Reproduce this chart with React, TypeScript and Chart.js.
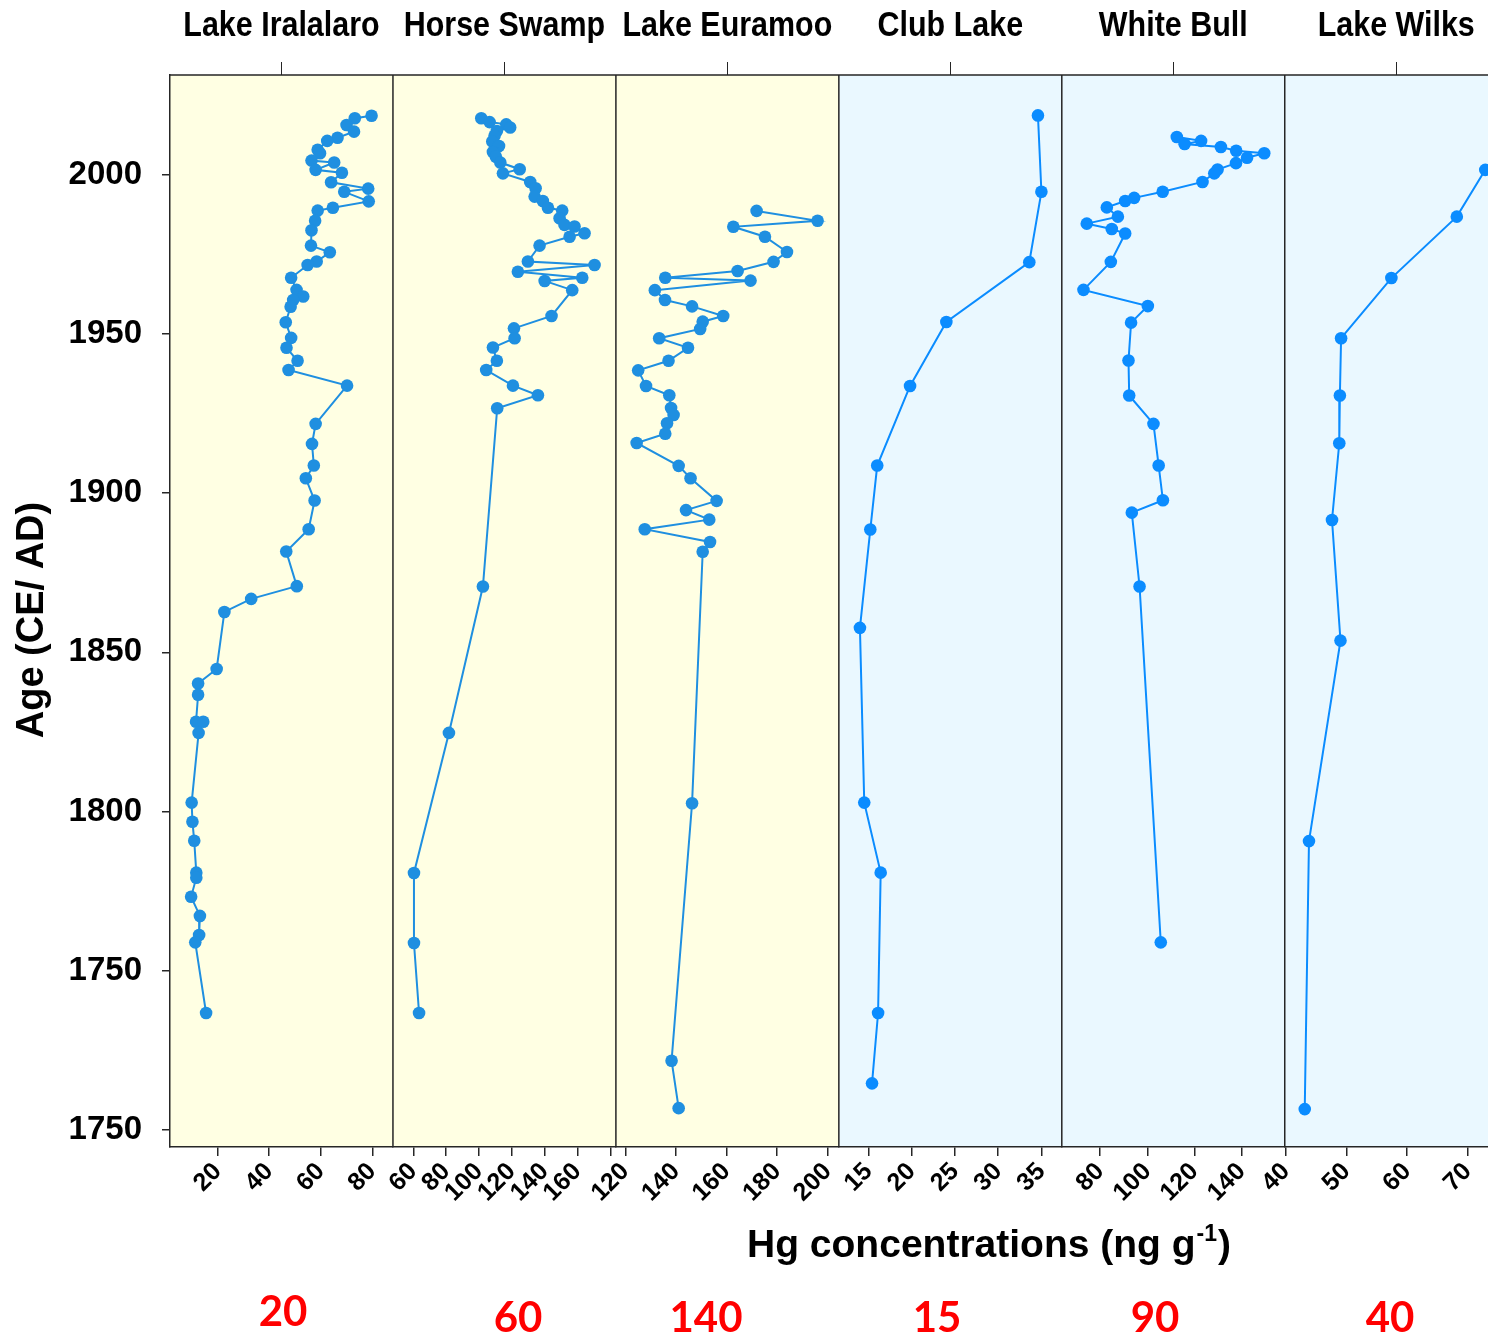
import React, { useEffect, useRef } from "react";
import { Chart, registerables } from "chart.js";

Chart.register(...registerables);

// ---------------- DATA ----------------
const lakeNames = ["Lake Iralalaro", "Horse Swamp", "Lake Euramoo", "Club Lake", "White Bull", "Lake Wilks"];

const iralalaroAge = [2018.6, 2017.8, 2015.7, 2013.6, 2011.7, 2010.7, 2007.9, 2006.8, 2004.5, 2003.9, 2001.6, 2000.7, 1997.7, 1995.7, 1994.7, 1991.7, 1989.7, 1988.8, 1985.6, 1982.6, 1977.8, 1975.7, 1972.8, 1971.7, 1967.7, 1963.9, 1961.8, 1960.7, 1958.6, 1953.7, 1948.8, 1945.7, 1941.6, 1938.7, 1933.8, 1921.8, 1915.5, 1908.7, 1904.7, 1897.7, 1888.7, 1881.7, 1870.8, 1866.8, 1862.7, 1844.8, 1840.2, 1836.7, 1828.2, 1828.2, 1824.7, 1802.8, 1796.8, 1790.8, 1780.8, 1779.2, 1773.2, 1767.2, 1761.2, 1758.9, 1736.7];
const iralalaroHg = [79.7, 73.2, 70.0, 72.9, 66.5, 62.5, 58.8, 59.7, 56.4, 65.2, 58.0, 68.2, 64.0, 78.4, 69.1, 78.6, 64.7, 58.8, 57.8, 56.4, 56.2, 63.5, 58.4, 54.9, 48.5, 50.6, 53.2, 49.3, 48.3, 46.4, 48.5, 46.7, 51.0, 47.5, 70.2, 58.0, 56.6, 57.3, 54.2, 57.6, 55.3, 46.6, 50.7, 33.0, 22.6, 19.6, 12.4, 12.4, 11.6, 14.4, 12.6, 9.9, 10.2, 10.9, 11.7, 11.7, 9.7, 13.1, 12.8, 11.3, 15.5];

const horseSwampAge = [2017.8, 2016.6, 2015.9, 2014.9, 2013.8, 2012.3, 2010.5, 2009.1, 2007.2, 2005.7, 2003.9, 2001.8, 2000.5, 1997.8, 1995.8, 1993.2, 1991.8, 1989.7, 1988.8, 1986.4, 1984.3, 1983.8, 1981.7, 1980.6, 1977.8, 1972.8, 1971.7, 1969.6, 1967.7, 1966.7, 1963.8, 1955.7, 1951.8, 1948.7, 1945.8, 1941.6, 1938.7, 1933.8, 1930.8, 1926.7, 1870.7, 1824.7, 1780.7, 1758.7, 1736.7];
const horseSwampHg = [101.4, 106.5, 116.6, 119.0, 110.9, 109.5, 108.1, 112.2, 108.5, 110.3, 113.0, 124.8, 114.6, 131.2, 134.5, 133.9, 138.9, 142.0, 150.7, 149.1, 152.1, 158.2, 164.3, 155.2, 136.9, 129.8, 170.4, 123.7, 162.9, 140.0, 156.8, 144.2, 121.3, 121.7, 108.5, 110.9, 104.4, 120.7, 135.9, 111.1, 102.4, 81.7, 60.4, 60.4, 63.5];

const euramooAge = [1988.7, 1985.6, 1983.7, 1980.6, 1975.8, 1972.7, 1969.8, 1967.7, 1966.8, 1963.8, 1960.7, 1958.7, 1955.7, 1953.9, 1951.6, 1948.7, 1945.7, 1941.6, 1938.6, 1933.7, 1930.8, 1926.8, 1924.6, 1922.0, 1918.7, 1915.8, 1908.6, 1904.7, 1897.6, 1894.7, 1891.7, 1888.7, 1884.7, 1881.6, 1802.6, 1721.7, 1706.8];
const euramooHg = [171.9, 196.0, 162.7, 175.2, 183.9, 178.6, 164.4, 135.8, 169.5, 131.7, 135.7, 146.4, 158.7, 150.6, 149.6, 133.4, 144.8, 137.1, 125.1, 128.2, 137.4, 138.1, 139.1, 136.5, 135.8, 124.5, 141.1, 145.8, 156.1, 144.0, 153.2, 127.7, 153.5, 150.6, 146.4, 138.3, 141.1];

const clubLakeAge = [2018.7, 1994.7, 1972.6, 1953.8, 1933.7, 1908.7, 1888.6, 1857.7, 1802.8, 1780.8, 1736.7, 1714.6];
const clubLakeHg = [34.6, 35.0, 33.6, 24.0, 19.8, 16.0, 15.2, 14.0, 14.5, 16.4, 16.1, 15.4];

const whiteBullAge = [2011.9, 2010.7, 2009.7, 2008.8, 2007.6, 2006.8, 2005.4, 2003.7, 2001.7, 2000.5, 1997.8, 1994.7, 1992.8, 1991.8, 1989.8, 1986.9, 1984.7, 1983.0, 1981.6, 1972.7, 1963.9, 1958.8, 1953.6, 1941.7, 1930.7, 1921.8, 1908.7, 1897.8, 1893.9, 1870.7, 1758.9];
const whiteBullHg = [112.5, 122.8, 115.8, 131.2, 137.7, 149.6, 142.3, 137.6, 129.8, 128.4, 123.4, 106.5, 94.4, 90.6, 82.8, 87.5, 74.3, 84.9, 90.6, 84.5, 72.9, 100.2, 93.1, 92.0, 92.3, 102.6, 104.8, 106.6, 93.4, 96.7, 105.7];

const wilksAge = [2001.6, 1986.9, 1967.6, 1948.7, 1930.7, 1915.7, 1891.6, 1853.7, 1790.7, 1706.5];
const wilksHg = [72.9, 68.2, 57.4, 49.1, 48.9, 48.8, 47.6, 49.0, 43.8, 43.1];

const panelAges = [iralalaroAge, horseSwampAge, euramooAge, clubLakeAge, whiteBullAge, wilksAge];
const panelHg = [iralalaroHg, horseSwampHg, euramooHg, clubLakeHg, whiteBullHg, wilksHg];

// axis ranges and ticks per panel
const panelMin = [1.5, 47.6, 116.3, 11.56, 63.7, 39.8];
const panelMax = [88, 183.4, 204.4, 37.36, 158.3, 76.6];
const panelTicks = [
  [20, 40, 60, 80],
  [60, 80, 100, 120, 140, 160, 180],
  [120, 140, 160, 180, 200],
  [15, 20, 25, 30, 35],
  [80, 100, 120, 140],
  [40, 50, 60, 70],
];
const panelTickLabels = [
  ["20", "40", "60", "80"],
  ["60", "80", "100", "120", "140", "160", ""],
  ["120", "140", "160", "180", "200"],
  ["15", "20", "25", "30", "35"],
  ["80", "100", "120", "140"],
  ["40", "50", "60", "70"],
];

const yMin = 1694.6;
const yMax = 2031.4;
const yTickValues = [1700, 1750, 1800, 1850, 1900, 1950, 2000];
const yTickLabels = ["1750", "1750", "1800", "1850", "1900", "1950", "2000"];

const yAxisTitle = "Age (CE/ AD)";
const xAxisTitleMain = "Hg concentrations (ng g";
const xAxisTitleSup = "-1";
const xAxisTitleEnd = ")";
const redLabels = ["20", "60", "140", "15", "90", "40"];

// ---------------- STYLE ----------------
const FONT = "'Liberation Sans', Arial, Helvetica, sans-serif";
const CANVAS_W = 1514;
const CANVAS_H = 1339;
const AREA_TOP = 75;
const AREA_BOTTOM = 1147;
const AREA_LEFT = 170;
const RIGHT_PAD = 3;
const X_AXIS_H = 100;
const PANEL_FILLS = ["#FFFFE3", "#FFFFE3", "#FFFFE3", "#EAF8FF", "#EAF8FF", "#EAF8FF"];
const MARK_COLORS = ["#1F8FE0", "#1F8FE0", "#1F8FE0", "#0B8CFF", "#0B8CFF", "#0B8CFF"];
const FRAME = "#262626";
const RED_X = [283, 518, 706, 937, 1155, 1390];
const RED_Y = [1312, 1318, 1318, 1318, 1318, 1318];
const TITLE_SQUEEZE = 0.87;

const decorPlugin = {
  id: "decor",
  beforeDraw(chart: any) {
    const { ctx, chartArea } = chart;
    ctx.save();
    for (let i = 0; i < lakeNames.length; i++) {
      const s = chart.scales["x" + i];
      ctx.fillStyle = PANEL_FILLS[i];
      ctx.fillRect(s.left, chartArea.top, s.right - s.left, chartArea.bottom - chartArea.top);
    }
    ctx.restore();
  },
  afterDraw(chart: any) {
    const { ctx, chartArea } = chart;
    ctx.save();
    // frame: top border and dividers
    ctx.strokeStyle = FRAME;
    ctx.lineWidth = 1.5;
    ctx.beginPath();
    ctx.moveTo(chartArea.left, chartArea.top);
    ctx.lineTo(chartArea.right, chartArea.top);
    for (let i = 1; i < lakeNames.length; i++) {
      const s = chart.scales["x" + i];
      ctx.moveTo(s.left, chartArea.top);
      ctx.lineTo(s.left, chartArea.bottom);
    }
    ctx.stroke();
    // top ticks and titles
    ctx.lineWidth = 1;
    ctx.fillStyle = "#000";
    ctx.textAlign = "center";
    ctx.textBaseline = "alphabetic";
    ctx.font = `bold 35px ${FONT}`;
    for (let i = 0; i < lakeNames.length; i++) {
      const s = chart.scales["x" + i];
      const cx = (s.left + s.right) / 2;
      ctx.beginPath();
      ctx.moveTo(Math.round(cx) + 0.5, chartArea.top - 13);
      ctx.lineTo(Math.round(cx) + 0.5, chartArea.top);
      ctx.stroke();
      ctx.save();
      ctx.translate(cx, 36);
      ctx.scale(TITLE_SQUEEZE, 1);
      ctx.fillText(lakeNames[i], 0, 0);
      ctx.restore();
    }
    // y axis title
    ctx.save();
    ctx.translate(33, 620);
    ctx.rotate(-Math.PI / 2);
    ctx.font = `bold 38px ${FONT}`;
    ctx.textBaseline = "middle";
    ctx.fillText(yAxisTitle, 0, 0);
    ctx.restore();
    // x axis title with superscript
    const mainFont = `bold 39px ${FONT}`;
    const supFont = `bold 23px ${FONT}`;
    ctx.font = mainFont;
    const w1 = ctx.measureText(xAxisTitleMain).width;
    const w3 = ctx.measureText(xAxisTitleEnd).width;
    ctx.font = supFont;
    const w2 = ctx.measureText(xAxisTitleSup).width;
    const total = w1 + w2 + w3 + 2;
    let x = 989 - total / 2;
    const base = 1257;
    ctx.textAlign = "left";
    ctx.font = mainFont;
    ctx.fillText(xAxisTitleMain, x, base);
    x += w1 + 1;
    ctx.font = supFont;
    ctx.fillText(xAxisTitleSup, x, base - 16);
    x += w2 + 1;
    ctx.font = mainFont;
    ctx.fillText(xAxisTitleEnd, x, base);
    // red values
    ctx.fillStyle = "#FF0000";
    ctx.textAlign = "center";
    ctx.textBaseline = "middle";
    ctx.font = `bold 42px Lato, ${FONT}`;
    for (let i = 0; i < redLabels.length; i++) {
      ctx.fillText(redLabels[i], RED_X[i], RED_Y[i]);
    }
    ctx.restore();
  },
};

function buildConfig(): any {
  const datasets = panelHg.map((hg, i) => ({
    label: lakeNames[i],
    data: hg.map((v, j) => ({ x: v, y: panelAges[i][j] })),
    xAxisID: "x" + i,
    yAxisID: "y",
    showLine: true,
    borderColor: MARK_COLORS[i],
    backgroundColor: MARK_COLORS[i],
    pointBackgroundColor: MARK_COLORS[i],
    pointBorderWidth: 0,
    pointRadius: 6.3,
    pointHoverRadius: 6.3,
    borderWidth: 2,
    tension: 0,
  }));

  const scales: any = {};
  for (let i = 0; i < lakeNames.length; i++) {
    const ticksVals = panelTicks[i];
    const labels = panelTickLabels[i];
    scales["x" + i] = {
      type: "linear",
      axis: "x",
      position: "bottom",
      stack: "panels",
      stackWeight: 1,
      offset: false,
      min: panelMin[i],
      max: panelMax[i],
      afterBuildTicks: (s: any) => {
        s.ticks = ticksVals.map((v) => ({ value: v }));
      },
      afterFit: (s: any) => {
        s.height = X_AXIS_H;
        s.paddingLeft = 0;
        s.paddingRight = 0;
      },
      ticks: {
        autoSkip: false,
        minRotation: 45,
        maxRotation: 45,
        padding: 1,
        color: "#000",
        font: { family: FONT, size: 25, weight: "bold" },
        callback: (_v: any, idx: number) => labels[idx],
      },
      grid: {
        display: true,
        drawOnChartArea: false,
        drawTicks: true,
        tickLength: 9,
        color: FRAME,
        tickColor: FRAME,
        lineWidth: 1.5,
      },
      border: { display: true, color: FRAME, width: 1.5 },
    };
  }
  scales.y = {
    type: "linear",
    axis: "y",
    position: "left",
    min: yMin,
    max: yMax,
    afterBuildTicks: (s: any) => {
      s.ticks = yTickValues.map((v) => ({ value: v }));
    },
    afterFit: (s: any) => {
      s.width = AREA_LEFT;
      s.paddingTop = 0;
      s.paddingBottom = 0;
    },
    ticks: {
      autoSkip: false,
      padding: 20,
      color: "#000",
      font: { family: FONT, size: 33, weight: "bold" },
      callback: (_v: any, idx: number) => yTickLabels[idx],
    },
    grid: {
      display: true,
      drawOnChartArea: false,
      drawTicks: true,
      tickLength: 8,
      color: FRAME,
      tickColor: FRAME,
      lineWidth: 1.5,
    },
    border: { display: true, color: FRAME, width: 1.5 },
  };

  return {
    type: "scatter",
    data: { datasets },
    options: {
      responsive: false,
      animation: false,
      devicePixelRatio: 1,
      layout: {
        padding: {
          top: AREA_TOP,
          left: 0,
          right: RIGHT_PAD,
          bottom: CANVAS_H - AREA_BOTTOM - X_AXIS_H,
        },
      },
      plugins: {
        legend: { display: false },
        tooltip: { enabled: false },
        title: { display: false },
      },
      scales,
    },
    plugins: [decorPlugin],
  };
}

export default function App() {
  const ref = useRef<HTMLCanvasElement | null>(null);
  useEffect(() => {
    if (!ref.current) return;
    const chart = new Chart(ref.current, buildConfig());
    return () => chart.destroy();
  }, []);
  return (
    <div
      style={{
        position: "absolute",
        left: 0,
        top: 0,
        width: 1488,
        height: 1339,
        overflow: "hidden",
        background: "#ffffff",
      }}
    >
      <canvas
        ref={ref}
        width={CANVAS_W}
        height={CANVAS_H}
        style={{ display: "block", width: CANVAS_W, height: CANVAS_H }}
      />
    </div>
  );
}
